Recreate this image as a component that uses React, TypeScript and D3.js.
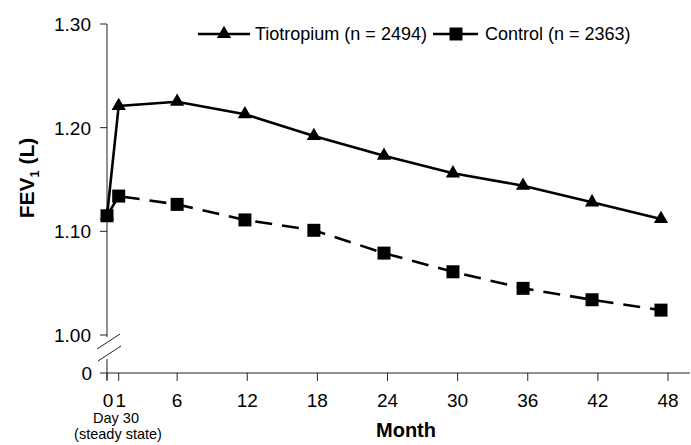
import * as d3 from "d3"

// months where the visits were plotted (points sit a bit left of the nominal ticks)
const months = [0, 1, 6, 11.8, 17.7, 23.7, 29.6, 35.6, 41.5, 47.4]
const tiotropium = [1.115, 1.221, 1.225, 1.213, 1.192, 1.173, 1.156, 1.144, 1.128, 1.112]
const control = [1.115, 1.134, 1.126, 1.111, 1.101, 1.079, 1.061, 1.045, 1.034, 1.024]

const xTicks = [0, 1, 6, 12, 18, 24, 30, 36, 42, 48]
const yTicks = [1.0, 1.1, 1.2, 1.3]
const seriesNames = ["Tiotropium (n = 2494)", "Control (n = 2363)"]

const font = "Arial, 'Liberation Sans', Helvetica, sans-serif"

export default function App() {
  const width = 691
  const height = 445

  const xScale = d3.scaleLinear().domain([0, 48]).range([107, 668])
  const yScale = d3.scaleLinear().domain([1.0, 1.3]).range([335, 24])
  const zeroY = 373
  const axisX = xScale(0)

  const line = d3
    .line<[number, number]>()
    .x((d) => xScale(d[0]))
    .y((d) => yScale(d[1]))

  const tioPts: [number, number][] = months.map((m, i) => [m, tiotropium[i]])
  const ctlPts: [number, number][] = months.map((m, i) => [m, control[i]])

  const triangle = d3.symbol().type(d3.symbolTriangle).size(88)()
  const square = d3.symbol().type(d3.symbolSquare).size(169)()

  return (
    <svg
      width={width}
      height={height}
      style={{ position: "absolute", left: 0, top: 0, background: "#fff" }}
      fontFamily={font}
    >
      {/* y axis, upper part */}
      <line x1={axisX} x2={axisX} y1={yScale(1.3)} y2={yScale(1.0) + 2} stroke="#222" strokeWidth={1} />
      {/* y axis, below the break */}
      <line x1={axisX} x2={axisX} y1={359} y2={zeroY + 7} stroke="#222" strokeWidth={1} />
      {/* break marks */}
      <line x1={97} y1={349} x2={120} y2={334} stroke="#222" strokeWidth={1} />
      <line x1={98} y1={361} x2={121} y2={346} stroke="#222" strokeWidth={1} />

      {yTicks.map((t) => (
        <g key={t}>
          <line x1={axisX - 7} x2={axisX} y1={yScale(t)} y2={yScale(t)} stroke="#222" />
          <text x={91} y={yScale(t)} dy="0.36em" textAnchor="end" fontSize={19}>
            {t.toFixed(2)}
          </text>
        </g>
      ))}
      <line x1={axisX - 7} x2={axisX} y1={zeroY} y2={zeroY} stroke="#222" />
      <text x={92} y={zeroY} dy="0.36em" textAnchor="end" fontSize={19}>
        0
      </text>

      {/* x axis */}
      <line x1={axisX} x2={690} y1={zeroY} y2={zeroY} stroke="#222" strokeWidth={1} />
      {xTicks.map((t) => (
        <g key={t}>
          <line x1={xScale(t)} x2={xScale(t)} y1={zeroY} y2={zeroY + 8} stroke="#222" />
          <text
            x={t === 0 ? xScale(t) + 1 : t === 1 ? xScale(t) + 2 : xScale(t)}
            y={407}
            textAnchor="middle"
            fontSize={19}
          >
            {t}
          </text>
        </g>
      ))}
      <text x={116} y={423} textAnchor="middle" fontSize={14.5}>
        Day 30
      </text>
      <text x={118} y={439} textAnchor="middle" fontSize={14.5}>
        (steady state)
      </text>
      <text x={406} y={437} textAnchor="middle" fontSize={20} fontWeight="bold">
        Month
      </text>

      {/* y label */}
      <text
        transform={`translate(34, 178) rotate(-90)`}
        textAnchor="middle"
        fontSize={21}
        fontWeight="bold"
      >
        FEV
        <tspan fontSize={13} dy={5}>
          1
        </tspan>
        <tspan dy={-5}> (L)</tspan>
      </text>

      {/* series */}
      <path d={line(ctlPts) ?? ""} fill="none" stroke="#000" strokeWidth={2.6} strokeDasharray="17 10" />
      <path d={line(tioPts) ?? ""} fill="none" stroke="#000" strokeWidth={2.6} />
      {tioPts.map((d, i) => (
        <path
          key={"t" + i}
          d={triangle ?? ""}
          transform={`translate(${xScale(d[0])}, ${yScale(d[1])})`}
          fill="#000"
        />
      ))}
      {ctlPts.map((d, i) => (
        <path
          key={"c" + i}
          d={square ?? ""}
          transform={`translate(${xScale(d[0])}, ${yScale(d[1])})`}
          fill="#000"
        />
      ))}

      {/* legend */}
      <line x1={198} x2={250} y1={34} y2={34} stroke="#000" strokeWidth={2.6} />
      <path d={triangle ?? ""} transform="translate(224, 34)" fill="#000" />
      <text x={255} y={34} dy="0.36em" fontSize={18}>
        {seriesNames[0]}
      </text>
      <line x1={433} x2={478} y1={34} y2={34} stroke="#000" strokeWidth={2.6} />
      <path d={square ?? ""} transform="translate(456, 34)" fill="#000" />
      <text x={485} y={34} dy="0.36em" fontSize={18}>
        {seriesNames[1]}
      </text>
    </svg>
  )
}
